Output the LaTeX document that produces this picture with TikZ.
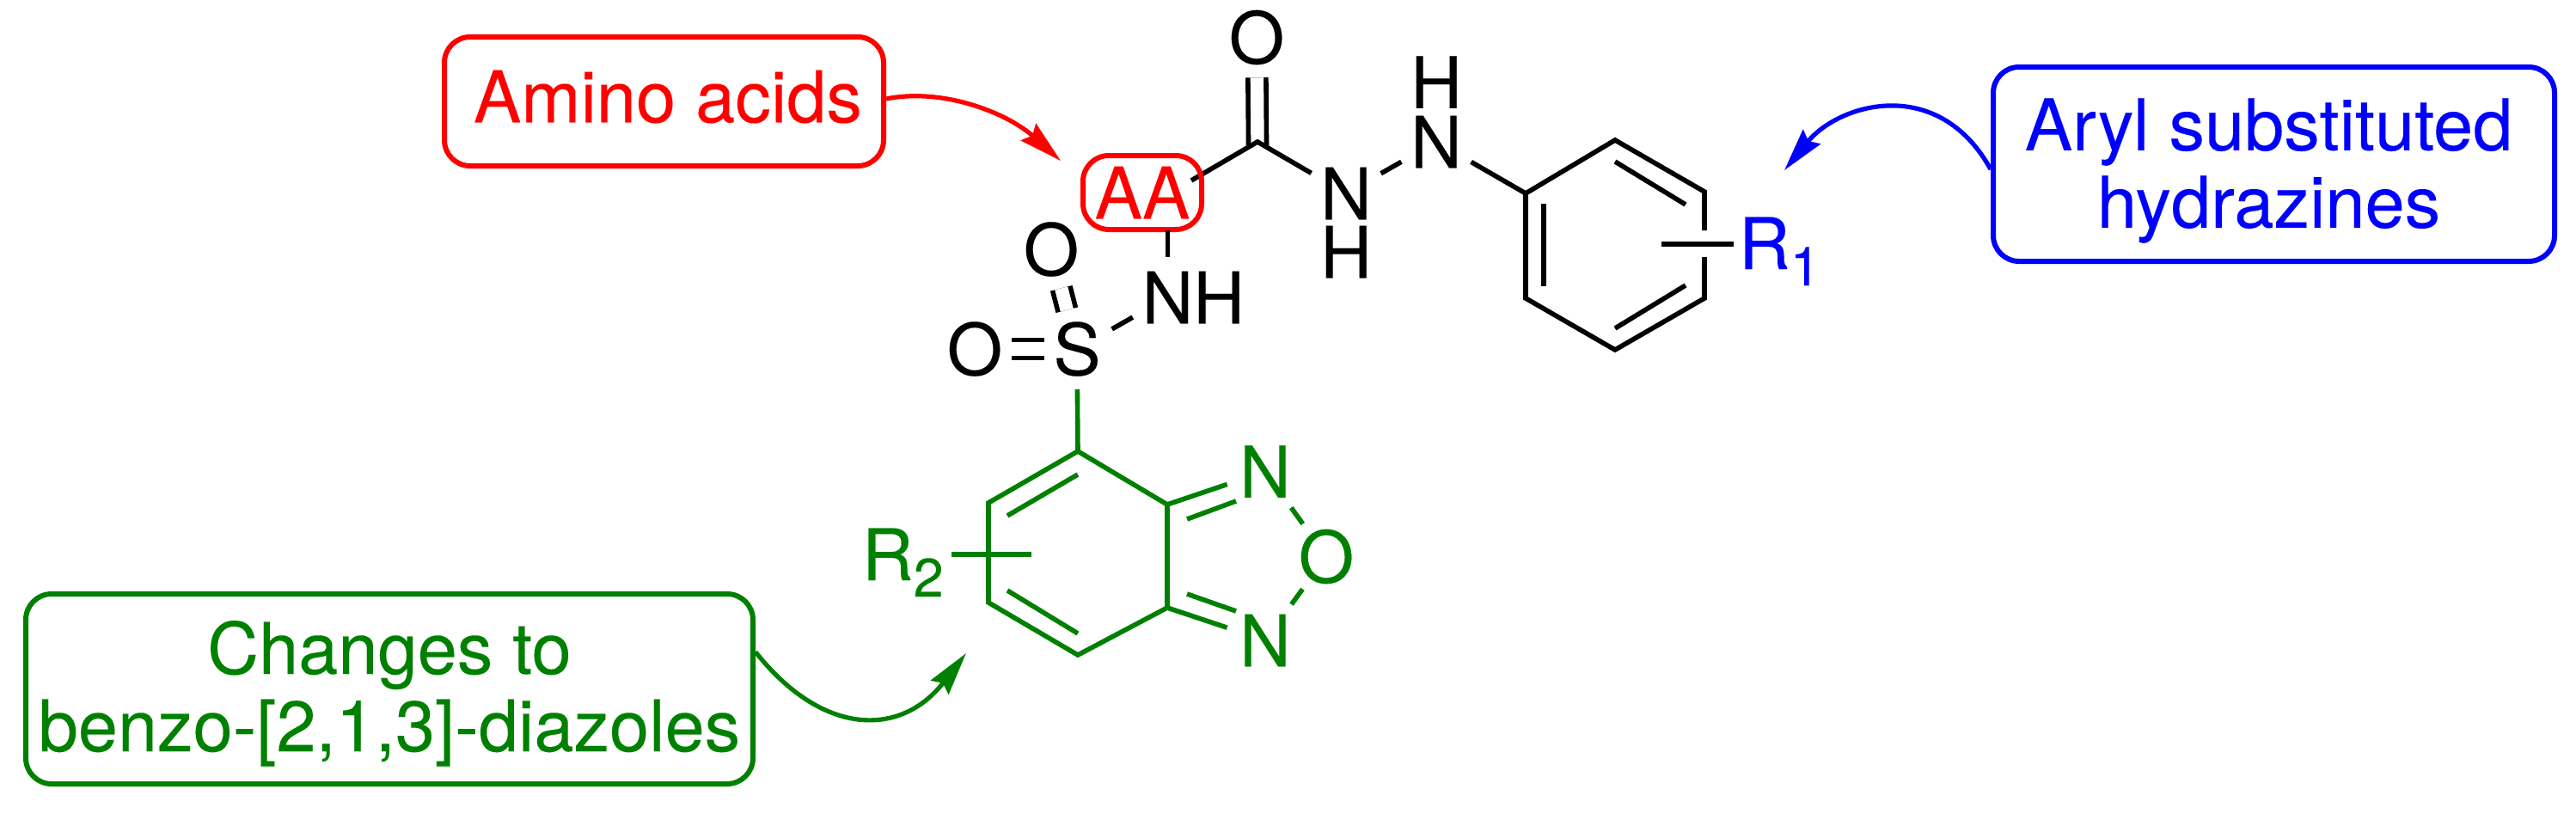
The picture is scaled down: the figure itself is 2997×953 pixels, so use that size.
\documentclass[tikz,border=0pt]{standalone}
\usepackage{fontspec}
\setmainfont{TeX Gyre Heros}[FakeBold=0.12]
\usetikzlibrary{arrows.meta}
\definecolor{drkgreen}{RGB}{0,128,0}
\newcommand{\subnum}[1]{\raisebox{-4.75pt}{\fontsize{15.75}{16}\selectfont #1}}
\tikzset{
  every node/.style={inner sep=0pt,font=\fontsize{20.75}{22.5}\selectfont},
  atom/.style={circle,minimum size=23pt},
  bond/.style={line width=1.4pt},
  dbond/.style={bond,double,double distance=3.85pt},
  tagbox/.style={draw,line width=1.5pt,rounded corners=7.5pt,align=center},
  bendarrow/.style={line width=1.3pt,-{Stealth[length=12.5pt,width=6.5pt,inset=1.5pt]}}
}
\begin{document}
\begin{tikzpicture}[x=0.25pt,y=0.25pt,yscale=-1,xscale=1]
        \useasboundingbox (0,0) rectangle (2997,953);
        % Text Node
        \node [atom] (oxo) at (1462,43.5) {O};
        \coordinate (cco) at (1463,165);
        \node [atom] (nlow) at (1566,225) {N};
        \node (hlow) at (1566,293) {H};
        \node [atom] (nup) at (1671,165) {N};
        \node (hup) at (1671,95.5) {H};
        \node [atom] (nh) at (1358.5,346) {N};
        \node (hnh) at (1418,346) {H};
        \node [atom] (sul) at (1253,406) {S};
        \node [atom] (osa) at (1223,290) {O};
        \node [atom] (osb) at (1134,406) {O};
        %Straight Lines
        \coordinate (aaend) at (1386,210);
        \draw [dbond, shorten >=-1.5pt] (oxo) -- (cco);
        \draw [bond] (aaend) -- (cco) -- (nlow);
        \draw [bond] (nlow) -- (nup);
        \draw [dbond] (osa) -- (sul);
        \draw [dbond, shorten <=-1pt, shorten >=-2.25pt] (osb) -- (sul);
        \draw [bond] (sul) -- (nh);
        % Amino acid tag
        \node [tagbox, red, minimum width=34.5pt, minimum height=21.5pt] (aabox) at (1329,224) {AA};
        \coordinate (aabot) at (1358.5,268);
        \draw [bond] (aabot) -- (nh);
        % Aryl ring
        \coordinate (ra) at (1775,225);
        \coordinate (rb) at (1879,163);
        \coordinate (rc) at (1983,223);
        \coordinate (rcgap) at (1983,268);
        \coordinate (rdgap) at (1983,299);
        \coordinate (rd) at (1983,347);
        \coordinate (re) at (1879,407);
        \coordinate (rf) at (1775,347);
        \draw [bond] (nup) -- (ra);
        \draw [bond] (rcgap) -- (rc) -- (rb) -- (ra) -- (rf) -- (re) -- (rd) -- (rdgap);
        \coordinate (ria) at (1879,188);
        \coordinate (rib) at (1961,238);
        \coordinate (ric) at (1796,237);
        \coordinate (rid) at (1796,333);
        \coordinate (rie) at (1879,382);
        \coordinate (rif) at (1961,332);
        \draw [bond] (ria) -- (rib);
        \draw [bond] (ric) -- (rid);
        \draw [bond] (rie) -- (rif);
        \node [blue, anchor=base west] (rone) at (2022,313) {R\subnum{1}};
        \coordinate (ronebond) at (1933,284);
        \draw [bond, shorten >=1.25pt] (ronebond) -- (ronebond -| rone.west);
        % Benzo ring
        \begin{scope}[drkgreen]
        \node [atom] (nbup) at (1472,548.5) {N};
        \node [atom] (nbdn) at (1472,745) {N};
        \node [atom] (obz) at (1543,647.5) {O};
        \coordinate (ba) at (1254,525);
        \coordinate (bb) at (1150,585);
        \coordinate (bc) at (1150,701);
        \coordinate (bd) at (1254,762);
        \coordinate (be) at (1358,707);
        \coordinate (bf) at (1358,587);
        \draw [bond] (sul) -- (ba);
        \draw [bond] (ba) -- (bb) -- (bc) -- (bd) -- (be) -- (bf) -- cycle;
        \coordinate (bia) at (1254,552);
        \coordinate (bib) at (1172,600);
        \coordinate (bic) at (1172,687);
        \coordinate (bid) at (1254,737);
        \coordinate (bie) at (1381,604);
        \coordinate (bif) at (1438,583);
        \coordinate (big) at (1381,691);
        \coordinate (bih) at (1438,711);
        \draw [bond] (bia) -- (bib);
        \draw [bond] (bic) -- (bid);
        \draw [bond] (bf) -- (nbup);
        \draw [bond] (bie) -- (bif);
        \draw [bond] (be) -- (nbdn);
        \draw [bond] (big) -- (bih);
        \draw [bond, shorten <=1.25pt] (nbup) -- (obz);
        \draw [bond, shorten >=1.25pt] (obz) -- (nbdn);
        \node [anchor=base west] (rtwo) at (1002,675) {R\subnum{2}};
        \coordinate (rtwobond) at (1200,645);
        \draw [bond, shorten >=2pt] (rtwobond) -- (rtwobond -| rtwo.east);
        \end{scope}
        % Tags
        \node [tagbox, red, minimum width=127.75pt, minimum height=37.5pt, text depth=3pt] (aminobox) at (772.5,118) {\hspace*{2.25pt}Amino acids};
        \node [tagbox, blue, minimum width=163.25pt, minimum height=56.5pt, text depth=0.75pt] (hydbox) at (2645.5,191) {Aryl substituted\hspace*{3pt}\\hydrazines\hspace*{3pt}};
        \node [tagbox, drkgreen, minimum width=211.5pt, minimum height=55.25pt, text depth=1.75pt] (chgbox) at (453,801.5) {Changes to\\benzo-[2,1,3]-diazoles};
        %Curve Lines
        \coordinate (aatip) at (1234,187);
        \coordinate (rtip) at (2076,198);
        \coordinate (btip) at (1124,760);
        \draw [bendarrow, red] ([yshift=-0.75pt]aminobox.east) .. controls (1095,102) and (1170,130) .. (aatip);
        \draw [bendarrow, blue] ([yshift=1.5pt]hydbox.west) .. controls (2255,87) and (2140,120) .. (rtip);
        \draw [bendarrow, drkgreen] ([yshift=-10.75pt]chgbox.east) .. controls (957,857) and (1048,858) .. (btip);
\end{tikzpicture}
\end{document}
